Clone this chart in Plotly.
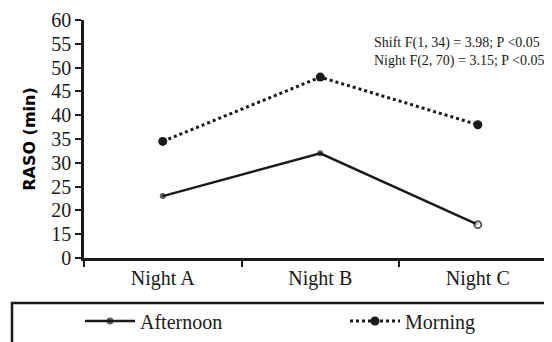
import plotly.graph_objects as go

categories = ["Night A", "Night B", "Night C"]
afternoon = [23, 32, 17]
morning = [34.5, 48, 38]
y_tick_values = [10, 15, 20, 25, 30, 35, 40, 45, 50, 55, 60]
y_tick_labels = ["0", "15", "20", "25", "30", "35", "40", "45", "50", "55", "60"]
stats_lines = ["Shift F(1, 34) = 3.98; P <0.05", "Night F(2, 70) = 3.15; P <0.05"]

serif = "Liberation Serif, Times New Roman, serif"
ink = "#1a1a1a"

# page has an 8px body margin; figure is sized so it ends at the window edge
W, H = 544, 334
L, T, B = 76, 12, 84
plot_w = W - L
plot_h = H - T - B
plot_bottom = H - B


def px_x(page_x):
    return (page_x - 8 - L) / plot_w


def px_y(page_y):
    return (plot_bottom - (page_y - 8)) / plot_h


fig = go.Figure()
fig.add_trace(go.Scatter(
    x=categories, y=afternoon, name="Afternoon", mode="lines+markers",
    line=dict(color=ink, width=2.5),
    marker=dict(color=[ink, ink, "white"], size=[6, 6, 7],
                line=dict(color=ink, width=[0, 0, 2])),
    legend="legend",
))
fig.add_trace(go.Scatter(
    x=categories, y=morning, name="Morning", mode="lines+markers",
    line=dict(color=ink, width=3, dash="dot"),
    marker=dict(color=ink, size=9),
    legend="legend2",
))

fig.add_annotation(text="<br>".join(stats_lines), xref="paper", yref="paper",
                   x=px_x(546), y=px_y(52.5), xanchor="right", yanchor="middle",
                   align="left", showarrow=False,
                   font=dict(family=serif, size=14, color=ink))

# legend box
fig.add_shape(type="rect", xref="paper", yref="paper",
              x0=px_x(12), x1=1.1, y0=-0.5, y1=px_y(303),
              line=dict(color=ink, width=2.5), fillcolor="rgba(0,0,0,0)")

legend_common = dict(orientation="h", xanchor="left", yanchor="middle",
                     font=dict(family=serif, size=20, color=ink),
                     itemwidth=50, bgcolor="rgba(0,0,0,0)")

fig.update_layout(
    width=W, height=H,
    margin=dict(l=L, r=0, t=T, b=B),
    paper_bgcolor="white", plot_bgcolor="white",
    showlegend=True,
    legend=dict(x=px_x(80), y=px_y(321), **legend_common),
    legend2=dict(x=px_x(345), y=px_y(321), **legend_common),
    font=dict(family=serif, color=ink),
)
fig.update_xaxes(
    range=[-0.5, 2.471], showline=True, linecolor=ink, linewidth=2.5,
    ticks="outside", tickson="boundaries", ticklen=6, tickwidth=2, tickcolor=ink,
    showgrid=False, zeroline=False, automargin=False,
    tickfont=dict(family=serif, size=20, color=ink),
)
fig.update_yaxes(
    range=[10, 60], tickvals=y_tick_values, ticktext=y_tick_labels,
    showline=True, linecolor=ink, linewidth=2.5,
    ticks="outside", ticklen=6, tickwidth=2, tickcolor=ink,
    showgrid=False, zeroline=False, automargin=False,
    tickfont=dict(family=serif, size=20, color=ink),
    title=dict(text="<b>RASO (min)</b>", standoff=12,
               font=dict(family="DejaVu Sans, sans-serif", size=16, color="black")),
)

fig.write_html("out.html")
